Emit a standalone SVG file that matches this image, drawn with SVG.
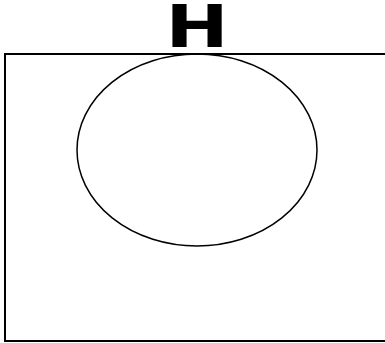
<svg xmlns="http://www.w3.org/2000/svg" width="385" height="343" viewBox="0 0 385 343">
<style>
.shape{fill:none;stroke:#000}
.lbl{font-family:"DejaVu Sans",sans-serif;font-weight:bold;font-size:58px;fill:#000}
</style>
<rect width="385" height="343" fill="#fff"/>
<g id="frame"><rect class="shape" x="5" y="54" width="382" height="287" stroke-width="2"/></g>
<g id="ellipse"><ellipse class="shape" cx="197" cy="150" rx="120" ry="96" stroke-width="1.5"/></g>
<g id="label"><text class="lbl" transform="translate(197,47) scale(1.3,1)" x="0" y="0" text-anchor="middle">H</text></g>
<g id="connectors"></g>
</svg>
